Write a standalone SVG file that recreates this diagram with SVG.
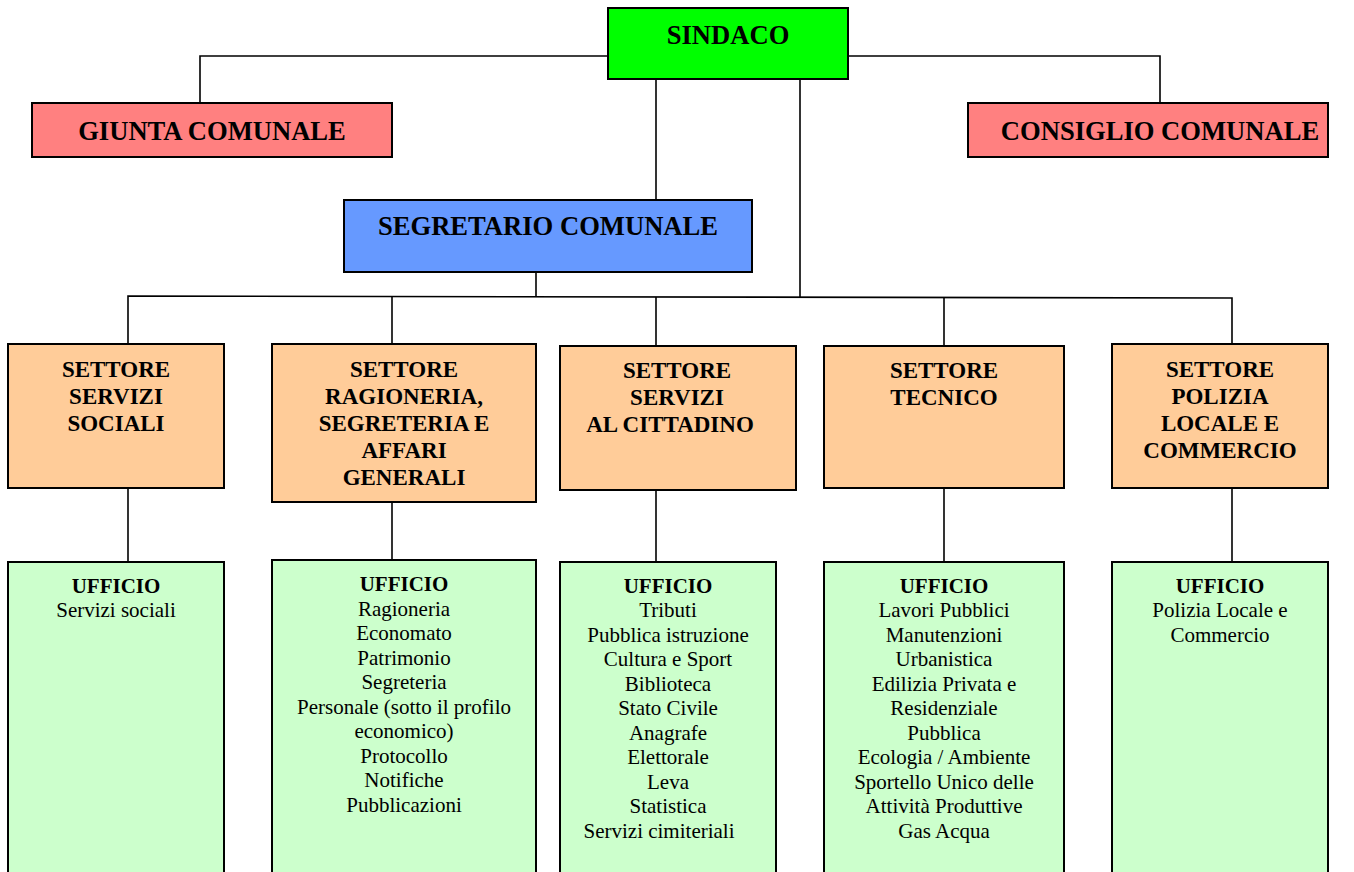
<svg xmlns="http://www.w3.org/2000/svg" width="1354" height="872" viewBox="0 0 1354 872">
<style>
.box{stroke:#000;stroke-width:2}
.top{font-family:"Liberation Serif","Times New Roman",serif;font-weight:bold;font-size:26.6px;text-anchor:middle;fill:#000}
.set{font-family:"Liberation Serif","Times New Roman",serif;font-weight:bold;font-size:23px;text-anchor:middle;fill:#000}
.uf{font-family:"Liberation Serif","Times New Roman",serif;font-size:21px;text-anchor:middle;fill:#000}
.ufb{font-weight:bold}
.con{fill:none;stroke:#000;stroke-width:1.6}
</style>
<rect width="1354" height="872" fill="#fff"/>
<g id="connectors" class="con">
<polyline points="608,56 200,56 200,103"/>
<polyline points="848,56 1160,56 1160,103"/>
<line x1="656" y1="79" x2="656" y2="200"/>
<line x1="800" y1="79" x2="800" y2="297"/>
<line x1="536" y1="272" x2="536" y2="296"/>
<polyline points="128,344 128,296 1232,298 1232,344"/>
<line x1="392" y1="296" x2="392" y2="344"/>
<line x1="656" y1="297" x2="656" y2="346"/>
<line x1="944" y1="297" x2="944" y2="346"/>
<line x1="128" y1="488" x2="128" y2="562"/>
<line x1="392" y1="502" x2="392" y2="560"/>
<line x1="656" y1="490" x2="656" y2="562"/>
<line x1="944" y1="488" x2="944" y2="562"/>
<line x1="1232" y1="488" x2="1232" y2="562"/>
</g>
<g id="sindaco"><rect class="box" x="608" y="8" width="240" height="71" fill="#00FF00"/><text class="top" x="728" y="44">SINDACO</text></g>
<g id="giunta"><rect class="box" x="32" y="103" width="360" height="54" fill="#FF8080"/><text class="top" x="212" y="140">GIUNTA COMUNALE</text></g>
<g id="consiglio"><rect class="box" x="968" y="103" width="360" height="54" fill="#FF8080"/><text class="top" x="1160" y="140">CONSIGLIO COMUNALE</text></g>
<g id="segretario"><rect class="box" x="344" y="200" width="408" height="72" fill="#6699FF"/><text class="top" x="548" y="235">SEGRETARIO COMUNALE</text></g>
<g id="settore1"><rect class="box" x="8" y="344" width="216" height="144" fill="#FFCC99"/>
<text class="set" x="116" y="377">SETTORE</text><text class="set" x="116" y="404">SERVIZI</text><text class="set" x="116" y="431">SOCIALI</text></g>
<g id="settore2"><rect class="box" x="272" y="344" width="264" height="158" fill="#FFCC99"/>
<text class="set" x="404" y="377">SETTORE</text><text class="set" x="404" y="404">RAGIONERIA,</text><text class="set" x="404" y="431">SEGRETERIA E</text><text class="set" x="404" y="458">AFFARI</text><text class="set" x="404" y="485">GENERALI</text></g>
<g id="settore3"><rect class="box" x="560" y="346" width="236" height="144" fill="#FFCC99"/>
<text class="set" x="677" y="378">SETTORE</text><text class="set" x="677" y="405">SERVIZI</text><text class="set" x="670" y="432">AL CITTADINO</text></g>
<g id="settore4"><rect class="box" x="824" y="346" width="240" height="142" fill="#FFCC99"/>
<text class="set" x="944" y="378">SETTORE</text><text class="set" x="944" y="405">TECNICO</text></g>
<g id="settore5"><rect class="box" x="1112" y="344" width="216" height="144" fill="#FFCC99"/>
<text class="set" x="1220" y="377">SETTORE</text><text class="set" x="1220" y="404">POLIZIA</text><text class="set" x="1220" y="431">LOCALE E</text><text class="set" x="1220" y="458">COMMERCIO</text></g>
<g id="ufficio1"><rect class="box" x="8" y="562" width="216" height="320" fill="#CCFFCC"/>
<text class="uf" x="116"><tspan class="ufb" x="116" y="593">UFFICIO</tspan><tspan x="116" y="617">Servizi sociali</tspan></text></g>
<g id="ufficio2"><rect class="box" x="272" y="560" width="264" height="322" fill="#CCFFCC"/>
<text class="uf" x="404"><tspan class="ufb" x="404" y="591">UFFICIO</tspan><tspan x="404" y="615.5">Ragioneria</tspan><tspan x="404" y="640">Economato</tspan><tspan x="404" y="664.5">Patrimonio</tspan><tspan x="404" y="689">Segreteria</tspan><tspan x="404" y="713.5">Personale (sotto il profilo</tspan><tspan x="404" y="738">economico)</tspan><tspan x="404" y="762.5">Protocollo</tspan><tspan x="404" y="787">Notifiche</tspan><tspan x="404" y="811.5">Pubblicazioni</tspan></text></g>
<g id="ufficio3"><rect class="box" x="560" y="562" width="216" height="320" fill="#CCFFCC"/>
<text class="uf" x="668"><tspan class="ufb" x="668" y="593">UFFICIO</tspan><tspan x="668" y="617">Tributi</tspan><tspan x="668" y="641.5">Pubblica istruzione</tspan><tspan x="668" y="666">Cultura e Sport</tspan><tspan x="668" y="690.5">Biblioteca</tspan><tspan x="668" y="715">Stato Civile</tspan><tspan x="668" y="739.5">Anagrafe</tspan><tspan x="668" y="764">Elettorale</tspan><tspan x="668" y="788.5">Leva</tspan><tspan x="668" y="813">Statistica</tspan><tspan x="659" y="837.5">Servizi cimiteriali</tspan></text></g>
<g id="ufficio4"><rect class="box" x="824" y="562" width="240" height="320" fill="#CCFFCC"/>
<text class="uf" x="944"><tspan class="ufb" x="944" y="593">UFFICIO</tspan><tspan x="944" y="617">Lavori Pubblici</tspan><tspan x="944" y="641.5">Manutenzioni</tspan><tspan x="944" y="666">Urbanistica</tspan><tspan x="944" y="690.5">Edilizia Privata e</tspan><tspan x="944" y="715">Residenziale</tspan><tspan x="944" y="739.5">Pubblica</tspan><tspan x="944" y="764">Ecologia / Ambiente</tspan><tspan x="944" y="788.5">Sportello Unico delle</tspan><tspan x="944" y="813">Attività Produttive</tspan><tspan x="944" y="837.5">Gas Acqua</tspan></text></g>
<g id="ufficio5"><rect class="box" x="1112" y="562" width="216" height="320" fill="#CCFFCC"/>
<text class="uf" x="1220"><tspan class="ufb" x="1220" y="593">UFFICIO</tspan><tspan x="1220" y="617">Polizia Locale e</tspan><tspan x="1220" y="641.5">Commercio</tspan></text></g>
</svg>
